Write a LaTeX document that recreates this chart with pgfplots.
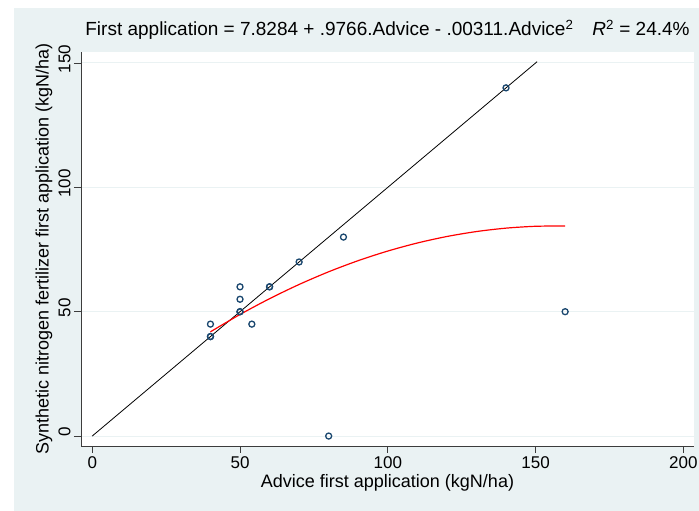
\documentclass[border=0pt]{standalone}
\usepackage{pgfplots}
\pgfplotsset{compat=1.18}
\usepackage{fontspec}
\setmainfont{Liberation Sans}
\definecolor{bgc}{RGB}{234,242,243}
\definecolor{stnavy}{RGB}{26,71,111}
\definecolor{axc}{RGB}{60,60,60}
\begin{document}
\begin{tikzpicture}[x=1pt,y=1pt]
\useasboundingbox (0,0) rectangle (699,511);
\fill[bgc] (14,0) rectangle (699,503);
\begin{axis}[
  scale only axis,
  width=613pt, height=393.7pt,
  at={(81pt,65pt)}, anchor=south west,
  xmin=-3.8, xmax=203.6, ymin=-4.0, ymax=154.3,
  axis background/.style={fill=white},
  axis x line*=bottom, axis y line*=left,
  axis line style={axc, line width=0.8pt, -},
  xtick={0,50,100,150,200}, ytick={0,50,100,150},
  tick align=outside, major tick length=7pt,
  tick style={axc, line width=0.8pt},
  ymajorgrids, grid style={bgc, line width=1pt},
  /pgf/number format/assume math mode=true,
  tick label style={font=\fontsize{17}{20}\selectfont},
  yticklabel style={rotate=90, anchor=south, xshift=4pt},
  label style={font=\fontsize{18}{21}\selectfont},
  xlabel={Advice first application (kgN/ha)},
  ylabel={Synthetic nitrogen fertilizer first application (kgN/ha)},
  xlabel style={at={(axis description cs:0.5,-0.094)}, anchor=center},
  ylabel style={at={(axis description cs:-0.0604,0.5)}, anchor=center, rotate=0},
  clip=false,
]
\addplot[black, line width=0.8pt] coordinates {(0,0) (150.5,150.5)};
\addplot[red, line width=1.2pt, smooth] coordinates {
(40,41.916) (50,48.883) (60,55.228) (70,60.951) (80,66.052) (90,70.531)
(100,74.388) (110,77.623) (120,80.236) (130,82.227) (140,83.596) (150,84.343) (160,84.468)};
\addplot[only marks, mark=o, mark size=3pt, stnavy, mark options={line width=1.3pt}] coordinates {
(40,40) (40,40) (40,45) (50,50) (50,50) (50,55) (50,60) (54,45) (60,60) (60,60)
(70,70) (85,80) (140,140) (160,50) (80,0)};
\end{axis}
\node[anchor=base, font=\fontsize{19}{22}\selectfont] at (387.5,475)
  {First application = 7.8284 + .9766.Advice - .00311.Advice\textsuperscript{2}\quad\textit{R}\textsuperscript{2} = 24.4\%};
\end{tikzpicture}
\end{document}
